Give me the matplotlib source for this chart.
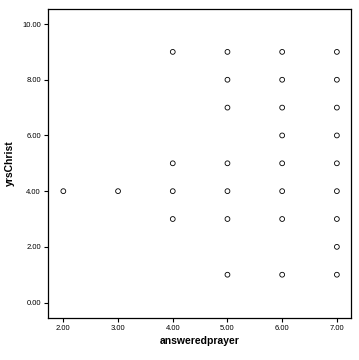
import matplotlib
matplotlib.use('Agg')
import matplotlib.pyplot as plt

# answeredprayer (x) vs yrsChrist (y)
answered_prayer = [2, 3,
                   4, 4, 4, 4,
                   5, 5, 5, 5, 5, 5, 5,
                   6, 6, 6, 6, 6, 6, 6, 6,
                   7, 7, 7, 7, 7, 7, 7, 7, 7]
yrs_christ = [4, 4,
              3, 4, 5, 9,
              1, 3, 4, 5, 7, 8, 9,
              1, 3, 4, 5, 6, 7, 8, 9,
              1, 2, 3, 4, 5, 6, 7, 8, 9]
x_ticks = [2, 3, 4, 5, 6, 7]
y_ticks = [0, 2, 4, 6, 8, 10]

plt.rcParams['font.family'] = ['Liberation Sans', 'DejaVu Sans']

fig = plt.figure(figsize=(3.59, 3.6), dpi=100)
ax = fig.add_axes([0.133, 0.117, 0.845, 0.858])

ax.scatter(answered_prayer, yrs_christ, s=12, facecolors='none',
           edgecolors='black', linewidths=0.6)

ax.set_xlim(1.715, 7.26)
ax.set_ylim(-0.55, 10.54)
ax.set_xticks(x_ticks)
ax.set_xticklabels([f'{v:.2f}' for v in x_ticks])
ax.set_yticks(y_ticks)
ax.set_yticklabels([f'{v:.2f}' for v in y_ticks])
ax.tick_params(direction='out', length=3, width=0.8, labelsize=5.5, pad=2)

for s in ax.spines.values():
    s.set_linewidth(0.9)

ax.set_xlabel('answeredprayer', fontsize=7.5, fontweight='bold', labelpad=3)
ax.set_ylabel('yrsChrist', fontsize=7.5, fontweight='bold', labelpad=5)

fig.savefig('out.png', dpi=100)
